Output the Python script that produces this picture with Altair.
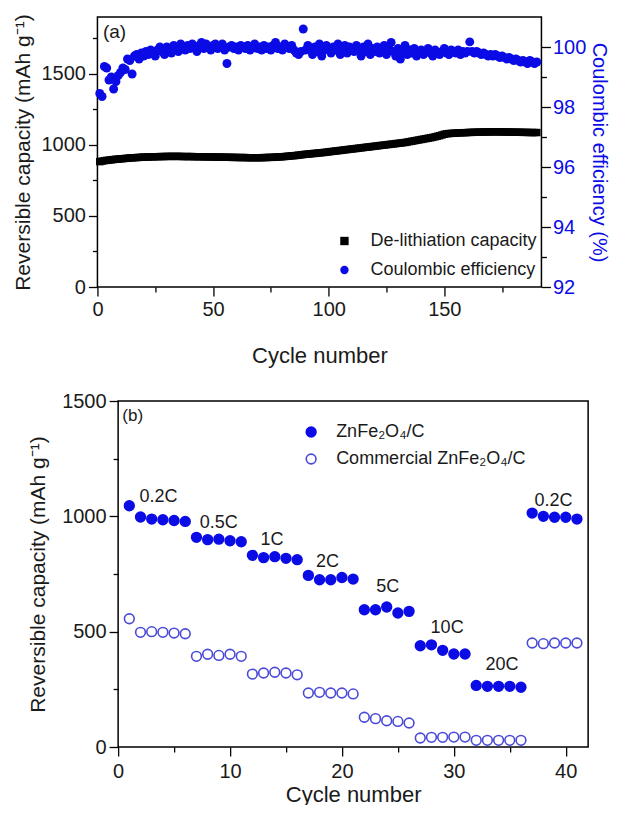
import altair as alt
import pandas as pd

# ---------------- panel (a): cycling ----------------
cycles_a = list(range(1, 191))
capacity = [
    882, 886, 889, 891, 893, 895, 897, 899, 900, 902,
    903, 905, 906, 908, 909, 910, 911, 912, 913, 914,
    914, 915, 916, 916, 917, 917, 918, 918, 918, 919,
    919, 919, 919, 919, 919, 919, 918, 918, 918, 918,
    918, 917, 917, 917, 917, 916, 916, 916, 915, 915,
    915, 914, 914, 914, 913, 913, 913, 912, 912, 912,
    911, 911, 911, 911, 910, 910, 910, 910, 910, 910,
    910, 911, 911, 912, 912, 913, 914, 915, 916, 917,
    918, 920, 921, 923, 924, 926, 928, 930, 932, 934,
    935, 937, 939, 940, 942, 944, 945, 947, 949, 951,
    953, 955, 957, 959, 961, 963, 965, 967, 969, 971,
    973, 975, 977, 979, 981, 983, 985, 987, 989, 991,
    993, 995, 997, 999, 1001, 1003, 1005, 1007, 1009, 1011,
    1013, 1015, 1017, 1020, 1023, 1026, 1029, 1032, 1035, 1038,
    1041, 1044, 1047, 1050, 1053, 1057, 1061, 1065, 1070, 1075,
    1078, 1080, 1081, 1082, 1083, 1084, 1085, 1086, 1086, 1087,
    1088, 1088, 1089, 1089, 1090, 1090, 1091, 1091, 1091, 1092,
    1092, 1092, 1092, 1092, 1091, 1091, 1091, 1090, 1090, 1090,
    1089, 1089, 1089, 1088, 1088, 1088, 1087, 1087, 1087, 1087,
]
ce = [
    98.45, 98.35, 99.35, 99.30, 98.90, 99.00, 98.60, 98.85, 99.05, 99.15,
    99.30, 99.25, 99.60, 99.55, 99.10, 99.70, 99.75, 99.60, 99.80, 99.70,
    99.85, 99.75, 99.90, 99.80, 99.70, 99.90, 100.00, 99.85, 99.75, 100.00,
    99.90, 99.80, 100.05, 99.95, 99.85, 100.10, 100.00, 99.90, 100.05, 99.95,
    100.10, 100.00, 99.85, 100.05, 100.15, 99.95, 100.10, 100.00, 99.90, 100.05,
    100.10, 99.95, 100.00, 100.10, 99.90, 99.45, 100.00, 100.05, 99.95, 100.00,
    99.90, 100.05, 100.00, 99.95, 100.05, 99.90, 100.00, 100.10, 99.95, 100.00,
    99.90, 100.05, 99.95, 100.00, 99.90, 100.05, 100.15, 99.95, 100.00, 99.90,
    100.10, 100.00, 99.95, 100.05, 99.90, 99.80, 99.75, 99.85, 100.60, 99.90,
    100.05, 99.95, 99.75, 100.00, 99.85, 100.10, 99.70, 99.90, 100.05, 99.95,
    99.80, 100.00, 99.90, 100.10, 99.75, 99.95, 100.05, 99.80, 100.00, 99.90,
    99.85, 100.05, 99.95, 99.70, 100.00, 99.85, 100.10, 99.75, 99.95, 99.85,
    100.00, 99.80, 99.90, 100.05, 99.75, 99.95, 100.15, 99.85, 99.70, 99.95,
    99.60, 99.85, 100.05, 99.75, 99.90, 99.80, 99.95, 99.70, 99.85, 99.90,
    99.75, 99.85, 99.95, 99.80, 99.70, 99.90, 99.80, 99.75, 99.85, 99.95,
    99.80, 99.75, 99.90, 99.85, 99.80, 99.90, 99.75, 99.85, 99.80, 99.85,
    100.17, 99.85, 99.80, 99.85, 99.80, 99.75, 99.80, 99.75, 99.70, 99.75,
    99.70, 99.75, 99.70, 99.65, 99.70, 99.65, 99.60, 99.65, 99.60, 99.55,
    99.60, 99.55, 99.50, 99.55, 99.50, 99.45, 99.55, 99.50, 99.45, 99.50,
]
series_a = ["De-lithiation capacity", "Coulombic efficiency"]

# ---------------- panel (b): rate capability ----------------
cycles_b = list(range(1, 42))
znfe_c = [
    1046, 997, 988, 985, 982, 978,
    909, 899, 901, 894, 890,
    831, 821, 825, 818, 812,
    744, 725, 725, 735, 728,
    595, 595, 607, 581, 588,
    439, 443, 419, 403, 403,
    267, 263, 263, 263, 259,
    1014, 1000, 996, 996, 988,
]
commercial = [
    556, 497, 500, 497, 494, 491,
    393, 402, 397, 402, 393,
    316, 321, 324, 321, 313,
    234, 237, 234, 234, 230,
    129, 123, 114, 111, 104,
    39, 42, 42, 43, 43,
    29, 29, 29, 29, 29,
    451, 448, 451, 451, 451,
]
series_b = ["ZnFe\u2082O\u2084/C", "Commercial ZnFe\u2082O\u2084/C"]
rate_labels = ["0.2C", "0.5C", "1C", "2C", "5C", "10C", "20C", "0.2C"]
rate_label_cycle = [3.6, 9.0, 13.75, 18.7, 24.1, 29.4, 34.3, 38.9]
rate_label_cap = [1084, 971, 897, 802, 693, 516, 357, 1067]

# ---------------- styling ----------------
FONT = "Liberation Sans"
BLUE = "#0b0be6"
OPEN = "#4a4ad8"
TXT = "#1a1a1a"

df_cap = pd.DataFrame({"cycle": cycles_a, "value": capacity, "series": series_a[0]})
df_ce = pd.DataFrame({"cycle": cycles_a, "value": ce, "series": series_a[1]})
df_tag_a = pd.DataFrame({"cycle": [7.4], "value": [1797], "label": ["(a)"]})

xa_scale = alt.Scale(domain=[0, 192], nice=False, zero=False)
ya_scale = alt.Scale(domain=[0, 1900], nice=False, zero=False)
yr_scale = alt.Scale(domain=[92, 101.0], nice=False, zero=False)

def major_axis(values, title, orient, label_color=TXT, title_color=TXT, title_pad=6, label_pad=3, title_size=21):
    return alt.Axis(values=values, title=title, orient=orient, domain=False, grid=False, format="d",
                    tickSize=9, tickWidth=1.3, tickColor="black",
                    labelFont=FONT, labelFontSize=20, labelColor=label_color, labelPadding=label_pad,
                    titleFont=FONT, titleFontSize=title_size, titleFontWeight="normal", titleColor=title_color,
                    titlePadding=title_pad, labelFlush=False, labelOverlap=False)

def minor_axis(values, orient):
    return alt.Axis(values=values, title=None, orient=orient, domain=False, grid=False,
                    labels=False, tickSize=5, tickWidth=1.3, tickColor="black")

leg_a = dict(title=None, orient="none", legendX=238, legendY=215, labelFont=FONT, labelFontSize=18,
             labelColor=TXT, labelLimit=500, symbolSize=70, labelOffset=17, rowPadding=11, padding=0)
color_a = alt.Color("series:N", scale=alt.Scale(domain=series_a, range=["black", BLUE]), legend=alt.Legend(**leg_a))
shape_a = alt.Shape("series:N", scale=alt.Scale(domain=series_a, range=["square", "circle"]), legend=alt.Legend(**leg_a))

cap_layer = alt.Chart(df_cap).mark_point(filled=True, size=55, opacity=1).encode(
    x=alt.X("cycle:Q", scale=xa_scale, axis=major_axis([0, 50, 100, 150], "Cycle number", "bottom", title_pad=26, label_pad=3, title_size=22)),
    y=alt.Y("value:Q", scale=ya_scale, axis=major_axis([0, 500, 1000, 1500], "Reversible capacity (mAh g\u207b\u00b9)", "left", title_pad=7, label_pad=3)),
    color=color_a, shape=shape_a)
cap_minor = alt.Chart(df_cap).mark_point(opacity=0).encode(
    x=alt.X("cycle:Q", scale=xa_scale, axis=minor_axis([25, 75, 125, 175], "bottom")),
    y=alt.Y("value:Q", scale=ya_scale, axis=minor_axis([250, 750, 1250, 1750], "left")))
ce_layer = alt.Chart(df_ce).mark_point(filled=True, size=80, opacity=1).encode(
    x=alt.X("cycle:Q", scale=xa_scale, axis=None),
    y=alt.Y("value:Q", scale=yr_scale, axis=major_axis([92, 94, 96, 98, 100], "Coulombic efficiency (%)", "right",
                                                        label_color=BLUE, title_color=BLUE, title_pad=3, label_pad=2, title_size=20)),
    color=color_a, shape=shape_a)
ce_minor = alt.Chart(df_ce).mark_point(opacity=0).encode(
    x=alt.X("cycle:Q", scale=xa_scale, axis=None),
    y=alt.Y("value:Q", scale=yr_scale, axis=minor_axis([93, 95, 97, 99], "right")))
tag_a = alt.Chart(df_tag_a).mark_text(font=FONT, fontSize=19, color=TXT).encode(
    x=alt.X("cycle:Q", scale=xa_scale, axis=None),
    y=alt.Y("value:Q", scale=ya_scale, axis=None),
    text="label:N")

top = alt.layer(cap_layer, cap_minor, ce_layer, ce_minor, tag_a).resolve_scale(
    y="independent").resolve_axis(x="independent", y="independent").properties(width=444, height=270)

# ---------------- bottom ----------------
df_rate = pd.concat([
    pd.DataFrame({"cycle": cycles_b, "value": znfe_c, "series": series_b[0]}),
    pd.DataFrame({"cycle": cycles_b, "value": commercial, "series": series_b[1]}),
])
df_rlab = pd.DataFrame({"cycle": rate_label_cycle, "value": rate_label_cap, "label": rate_labels})
df_tag_b = pd.DataFrame({"cycle": [1.3], "value": [1435], "label": ["(b)"]})

xb_scale = alt.Scale(domain=[0, 42], nice=False, zero=False)
yb_scale = alt.Scale(domain=[0, 1500], nice=False, zero=False)

leg_b = dict(title=None, orient="none", legendX=184, legendY=22, labelFont=FONT, labelFontSize=18,
             labelColor=TXT, labelLimit=500, symbolSize=95, symbolStrokeWidth=1.6, labelOffset=16,
             rowPadding=9, padding=0)

pts_b = alt.Chart(df_rate).mark_point(shape="circle", size=95, strokeWidth=1.6, opacity=1).encode(
    x=alt.X("cycle:Q", scale=xb_scale, axis=major_axis([0, 10, 20, 30, 40], "Cycle number", "bottom", title_pad=3, label_pad=5, title_size=22)),
    y=alt.Y("value:Q", scale=yb_scale, axis=major_axis([0, 500, 1000, 1500], "Reversible capacity (mAh g\u207b\u00b9)", "left", title_pad=13, label_pad=3)),
    stroke=alt.Stroke("series:N", scale=alt.Scale(domain=series_b, range=[BLUE, OPEN]), legend=alt.Legend(**leg_b)),
    fill=alt.Fill("series:N", scale=alt.Scale(domain=series_b, range=[BLUE, "white"]), legend=alt.Legend(**leg_b)))
minor_b = alt.Chart(df_rate).mark_point(opacity=0).encode(
    x=alt.X("cycle:Q", scale=xb_scale, axis=minor_axis([5, 15, 25, 35], "bottom")),
    y=alt.Y("value:Q", scale=yb_scale, axis=minor_axis([250, 750, 1250], "left")))
rlab = alt.Chart(df_rlab).mark_text(font=FONT, fontSize=18, color=TXT).encode(
    x=alt.X("cycle:Q", scale=xb_scale, axis=None),
    y=alt.Y("value:Q", scale=yb_scale, axis=None),
    text="label:N")
tag_b = alt.Chart(df_tag_b).mark_text(font=FONT, fontSize=17, color=TXT).encode(
    x=alt.X("cycle:Q", scale=xb_scale, axis=None),
    y=alt.Y("value:Q", scale=yb_scale, axis=None),
    text="label:N")

bottom = alt.layer(pts_b, minor_b, rlab, tag_b).resolve_axis(
    x="independent", y="independent").properties(width=470, height=346)

chart = alt.concat(top, bottom, columns=1, spacing=23, center=True, align="each").resolve_scale(
    x="independent", y="independent", color="independent", shape="independent",
    fill="independent", stroke="independent").properties(
    padding={"left": 4, "top": 4, "right": 0, "bottom": -1}
).configure(font=FONT).configure_view(stroke="black", strokeWidth=1.5)

chart.save("out.html", embed_options={"renderer": "svg", "actions": False})
